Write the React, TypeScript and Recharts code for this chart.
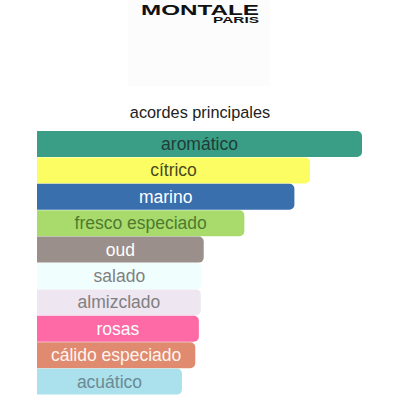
import React from "react";
import { BarChart, Bar, XAxis, YAxis, Cell, LabelList } from "recharts";

const accords = [
  "aromático",
  "cítrico",
  "marino",
  "fresco especiado",
  "oud",
  "salado",
  "almizclado",
  "rosas",
  "cálido especiado",
  "acuático",
];
const strengths = [100, 84.0, 79.2, 63.8, 51.3, 50.7, 50.4, 49.8, 48.7, 44.6];
const barColors = [
  "#3a9e86",
  "#fbfd63",
  "#3a6fae",
  "#a8db6c",
  "#9b8f8b",
  "#f0fffe",
  "#eee6f1",
  "#fe6aa6",
  "#e08a70",
  "#aae1ec",
];
const textColors = [
  "#1e3d36",
  "#4a4a20",
  "#ffffff",
  "#4e7a30",
  "#ffffff",
  "#808080",
  "#808080",
  "#ffffff",
  "#fff5ee",
  "#6b8a94",
];

const data = accords.map((name, i) => ({
  name,
  value: strengths[i],
  fill: barColors[i],
  text: textColors[i],
}));

const FONT = "Arial, 'Liberation Sans', sans-serif";

const CenterLabel = (props: any) => {
  const { x, y, width, height, index } = props;
  const d = data[index];
  return (
    <text
      x={Number(x) + Number(width) / 2}
      y={Number(y) + Number(height) / 2}
      textAnchor="middle"
      dominantBaseline="central"
      fontSize={17.5}
      fontFamily={FONT}
      fill={d.text}
    >
      {d.name}
    </text>
  );
};

export default function App() {
  return (
    <div
      style={{
        position: "absolute",
        left: 0,
        top: 0,
        width: 400,
        height: 400,
        background: "#ffffff",
      }}
    >
      <svg
        width={400}
        height={130}
        style={{ position: "absolute", left: 0, top: 0 }}
      >
        <rect x={128} y={0} width={142} height={86} fill="#fcfcfc" />
        <text
          x={141}
          y={15}
          fontSize={15}
          fontWeight="bold"
          fontFamily={FONT}
          fill="#111"
          textLength={118}
          lengthAdjust="spacingAndGlyphs"
        >
          MONTALE
        </text>
        <text
          x={213}
          y={22.5}
          fontSize={8.5}
          fontWeight="bold"
          fontFamily={FONT}
          fill="#111"
          textLength={46}
          lengthAdjust="spacingAndGlyphs"
        >
          PARIS
        </text>
        <text
          x={200}
          y={118}
          textAnchor="middle"
          fontSize={16.3}
          fontFamily={FONT}
          fill="#222"
        >
          acordes principales
        </text>
      </svg>
      <div style={{ position: "absolute", left: 0, top: 0 }}>
        <BarChart
          width={400}
          height={400}
          layout="vertical"
          data={data}
          margin={{ top: 131, right: 38, bottom: 5, left: 37 }}
          barCategoryGap={0}
        >
          <XAxis type="number" domain={[0, 100]} hide />
          <YAxis type="category" dataKey="name" hide />
          <Bar
            dataKey="value"
            radius={[0, 5, 5, 0]}
            isAnimationActive={false}
          >
            {data.map((d, i) => (
              <Cell key={i} fill={d.fill} />
            ))}
            <LabelList dataKey="name" content={<CenterLabel />} />
          </Bar>
        </BarChart>
      </div>
    </div>
  );
}
